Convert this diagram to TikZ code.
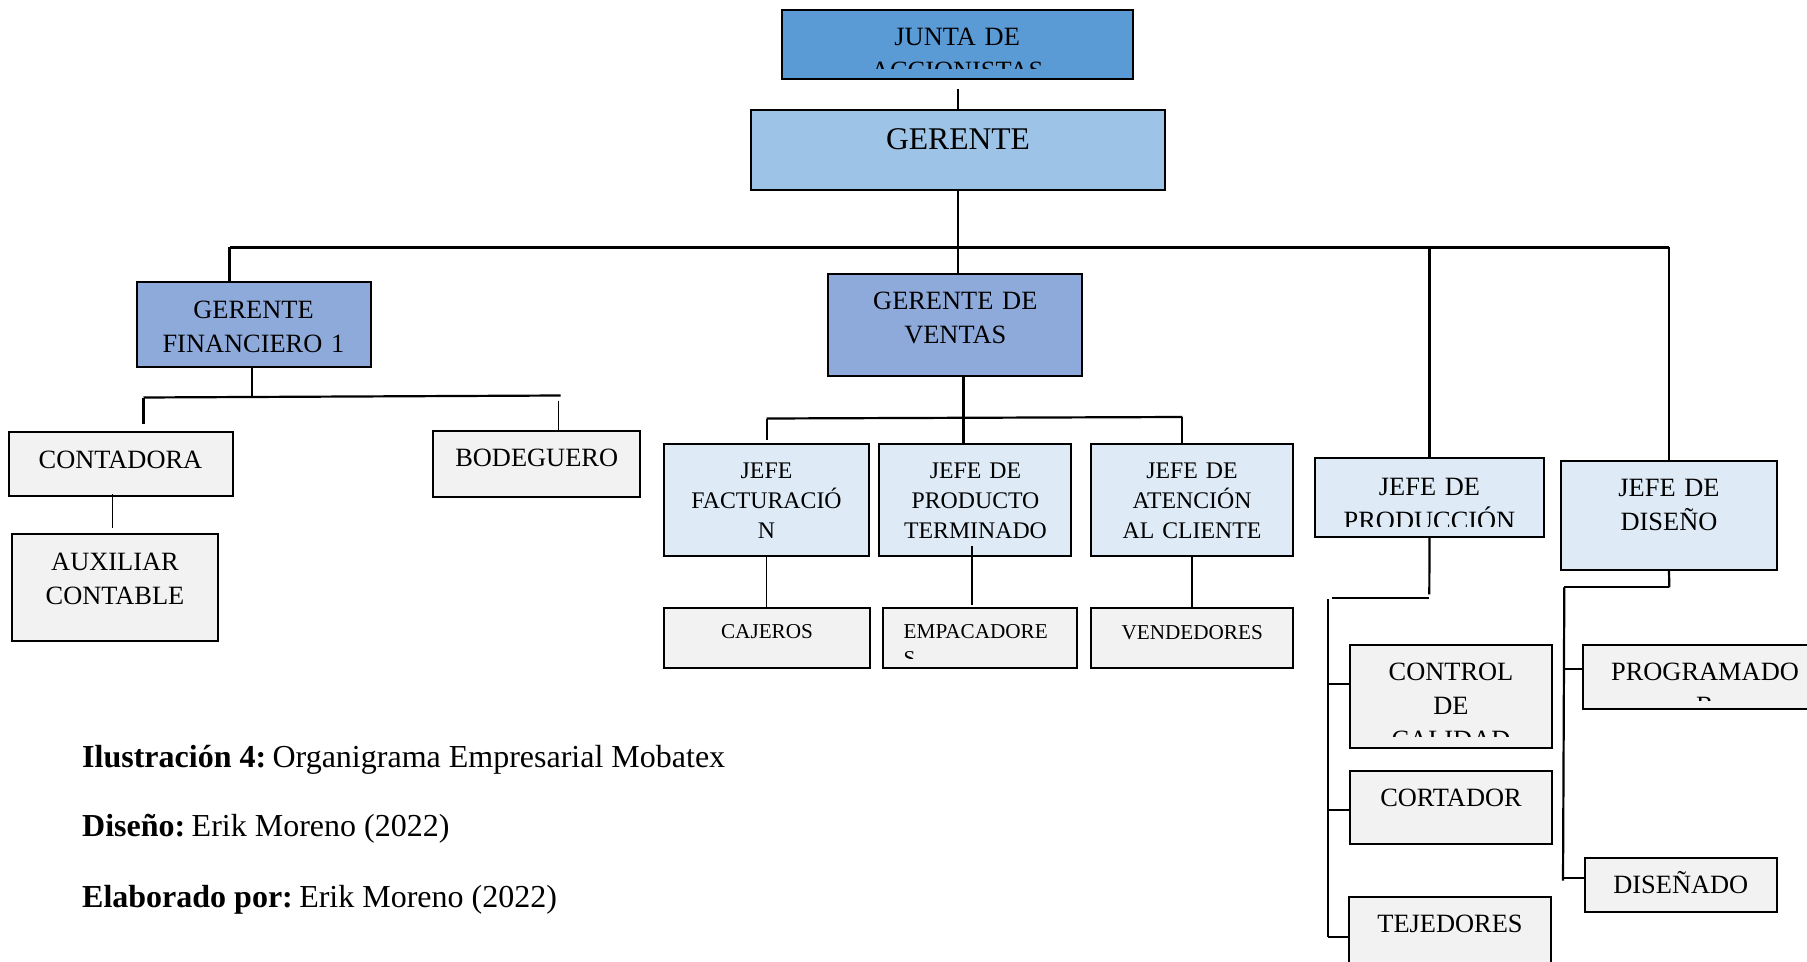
\documentclass[tikz,border=0pt]{standalone}
\usepackage{fontspec}
\setmainfont{Liberation Serif}
\usetikzlibrary{fit,calc}
\definecolor{juntaC}{HTML}{5B9BD5}
\definecolor{gerC}{HTML}{9DC3E6}
\definecolor{midC}{HTML}{8EAADB}
\definecolor{jefeC}{HTML}{DEEBF7}
\definecolor{leafC}{HTML}{F2F2F2}
\newcommand\fmain{\fontsize{13.2}{17}\selectfont}
\newcommand\fger{\fontsize{15.8}{19}\selectfont}
\newcommand\fjefe{\fontsize{11.9}{15}\selectfont}
\newcommand\fleaf{\fontsize{10.6}{13.5}\selectfont}
\newcommand\fcap{\fontsize{16}{20}\selectfont}
\tikzset{
  box/.style={draw=black, line width=1.1pt, inner sep=0pt, rectangle},
  leafbox/.style={box, fill=leafC, line width=0.9pt},
  txt/.style={inner sep=0pt, anchor=base, align=center, text width=200pt},
  conn/.style={line width=1.1pt},
  thinconn/.style={line width=0.7pt},
}
\begin{document}
\begin{tikzpicture}[x=0.5pt,y=-0.5pt]
\useasboundingbox (0,0) rectangle (1807,962);
\clip (0,0) rectangle (1807,962);

% ---------- boxes ----------
\node[box, fill=juntaC, fit={(781.7,10) (1132.7,79)}] (junta) {};
\node[box, fill=gerC, fit={(751,110) (1165,190)}] (gerente) {};
\node[box, fill=midC, fit={(136.7,281.7) (370.7,367.3)}] (gf) {};
\node[leafbox, fit={(9,432.3) (232.7,496)}] (contadora) {};
\node[leafbox, line width=1.1pt, fit={(11.7,534) (218.3,640.7)}] (aux) {};
\node[leafbox, fit={(433.3,431) (640,496.7)}] (bodeguero) {};
\node[box, fill=midC, fit={(828.3,274) (1082.3,376)}] (gv) {};
\node[box, fill=jefeC, fit={(664,444.3) (869,556)}] (jf) {};
\node[box, fill=jefeC, fit={(879.3,444.3) (1071,556)}] (jpt) {};
\node[box, fill=jefeC, fit={(1091,444.3) (1293.3,556)}] (jac) {};
\node[leafbox, fit={(664,607.7) (870,667.7)}] (cajeros) {};
\node[leafbox, fit={(883.3,607.7) (1076.7,667.7)}] (empac) {};
\node[leafbox, fit={(1091,608.3) (1293.3,667.7)}] (vend) {};
\node[box, fill=jefeC, fit={(1315,458.3) (1544,536.7)}] (jp) {};
\node[box, fill=jefeC, fit={(1560.7,461) (1777.3,570)}] (jd) {};
\node[leafbox, line width=1.1pt, fit={(1350,645) (1552.3,747.7)}] (control) {};
\node[leafbox, fit={(1350,771) (1552.3,844.3)}] (cortador) {};
\node[leafbox, line width=1.1pt, fit={(1349.3,897.3) (1550.7,1010)}] (tejed) {};
\node[leafbox, fit={(1582.7,645) (1840,709.3)}] (progr) {};
\node[leafbox, fit={(1585,858.3) (1776.7,912.3)}] (disenado) {};

% ---------- texts ----------
\begin{scope}
  \clip (781.7,10) rectangle (1132.7,68.3);
  \node[txt, font=\fmain] (junta-t) at (957.2,46) {JUNTA DE\\ACCIONISTAS};
\end{scope}
\node[txt, font=\fger] (gerente-t) at (958,149.3) {GERENTE};
\node[txt, font=\fmain] (gf-t) at (253.5,318.3) {GERENTE\\FINANCIERO 1};
\node[txt, font=\fmain] (contadora-t) at (120.5,468.3) {CONTADORA};
\node[txt, font=\fmain] (aux-t) at (115,570) {AUXILIAR\\CONTABLE};
\node[txt, font=\fmain] (bodeguero-t) at (536.7,466.7) {BODEGUERO};
\node[txt, font=\fmain] (gv-t) at (955.3,309.3) {GERENTE DE\\VENTAS};
\node[txt, font=\fjefe] (jf-t) at (766.5,478.3) {JEFE\\FACTURACIÓ\\N};
\node[txt, font=\fjefe] (jpt-t) at (975.5,478.3) {JEFE DE\\PRODUCTO\\TERMINADO};
\node[txt, font=\fjefe] (jac-t) at (1192,478.3) {JEFE DE\\ATENCIÓN\\AL CLIENTE};
\node[txt, font=\fleaf] (cajeros-t) at (767,638.3) {CAJEROS};
\begin{scope}
  \clip (883.3,607.7) rectangle (1076.7,658.3);
  \node[txt, font=\fleaf, align=left, text width=100pt, anchor=base west] (empac-t) at (903.3,638.3) {EMPACADORE\\S};
\end{scope}
\node[txt, font=\fleaf] (vend-t) at (1192.2,639) {VENDEDORES};
\begin{scope}
  \clip (1315,458.3) rectangle (1544,526);
  \node[txt, font=\fmain] (jp-t) at (1429.5,495) {JEFE DE\\PRODUCCIÓN};
\end{scope}
\node[txt, font=\fmain] (jd-t) at (1669,496.7) {JEFE DE\\DISEÑO};
\begin{scope}
  \clip (1350,645) rectangle (1552.3,736.7);
  \node[txt, font=\fmain] (control-t) at (1451,680) {CONTROL\\DE\\CALIDAD};
\end{scope}
\node[txt, font=\fmain] (cortador-t) at (1451,806.7) {CORTADOR};
\node[txt, font=\fmain] (tejed-t) at (1450,932.3) {TEJEDORES};
\begin{scope}
  \clip (1582.7,645) rectangle (1840,700);
  \node[txt, font=\fmain] (progr-t) at (1705,680.7) {PROGRAMADO\\R};
\end{scope}
\node[txt, font=\fmain] (disenado-t) at (1680.8,893.3) {DISEÑADO};

% captions
\node[inner sep=0pt, anchor=base west, font=\fcap] (cap1) at (81.8,767.5) {\textbf{Ilustración 4:}\hspace{0.2em}Organigrama Empresarial Mobatex};
\node[inner sep=0pt, anchor=base west, font=\fcap] (cap2) at (81.8,836.5) {\textbf{Diseño:}\hspace{0.2em}Erik Moreno (2022)};
\node[inner sep=0pt, anchor=base west, font=\fcap] (cap3) at (81.8,907) {\textbf{Elaborado por:}\hspace{0.2em}Erik Moreno (2022)};

% ---------- connectors ----------
\coordinate (jg) at (958.3,89.3);
\draw[conn] (jg) -- (jg |- gerente.north);
\draw[conn] (gerente.south) -- (gerente.south |- gv.north);
\coordinate (busL) at (229.5,247.5);
\coordinate (busR) at (1669.3,247.5);
\draw[conn] (busL) -- (busR);
\draw[conn] (busL) -- (busL |- gf.north);
\draw[conn] (busR) -- (busR |- jd.north);
\draw[conn] (jp.north) -- (jp.north |- busR);

% finance branch
\coordinate (fb) at (252,397);
\coordinate (fbL) at (143.5,397.5);
\coordinate (fbR) at (560.5,395.5);
\coordinate (fbLe) at (143.5,424);
\coordinate (fbRs) at (558.7,400.7);
\draw[conn] (fb |- gf.south) -- (fb);
\draw[conn] (fbL) -- (fbR);
\draw[conn] (fbL) -- (fbLe);
\draw[thinconn] (fbRs) -- (fbRs |- bodeguero.north);
\coordinate (ca) at (112.7,494.3);
\coordinate (cae) at (112.7,527.7);
\draw[thinconn] (ca) -- (cae);

% sales branch
\coordinate (vb) at (963.5,418.5);
\coordinate (vbL) at (766.7,418.5);
\coordinate (vbR) at (1182.3,417);
\coordinate (vbLe) at (766.7,440);
\draw[conn] (vb |- gv.south) -- (vb |- jpt.north);
\draw[conn] (vbL) -- (vbR);
\draw[conn] (vbL) -- (vbLe);
\draw[conn] (vbR) -- (vbR |- jac.north);
\draw[thinconn] (jf.south) -- (jf.south |- cajeros.north);
\coordinate (ep) at (972,546);
\coordinate (epe) at (972,605);
\draw[thinconn] (ep) -- (epe);
\draw[thinconn] (jac.south) -- (jac.south |- vend.north);

% production branch
\coordinate (pa) at (1429.3,594.3);
\coordinate (pb) at (1331.7,598.3);
\coordinate (sp) at (1328.3,599.3);
\coordinate (spe) at (1328.3,936.7);
\draw[conn] (jp.south) -- (pa);
\draw[conn] (pb) -- (pb -| pa);
\draw[conn] (sp) -- (spe);
\coordinate (b1) at (1328.3,684);
\coordinate (b2) at (1328.3,810);
\coordinate (b3) at (1328.3,936.7);
\draw[conn] (b1) -- (b1 -| control.west);
\draw[conn] (b2) -- (b2 -| cortador.west);
\draw[conn] (b3) -- (b3 -| tejed.west);

% design branch
\coordinate (da) at (1669.3,587.3);
\coordinate (db) at (1564.3,587.3);
\coordinate (dbe) at (1563,880.7);
\draw[conn] (jd.south) -- (da);
\draw[conn] (db) -- (da);
\draw[conn] (db) -- (dbe);
\coordinate (d1) at (1564.2,669.3);
\coordinate (d2) at (1563,878.3);
\draw[conn] (d1) -- (d1 -| progr.west);
\draw[conn] (d2) -- (d2 -| disenado.west);
\end{tikzpicture}
\end{document}
